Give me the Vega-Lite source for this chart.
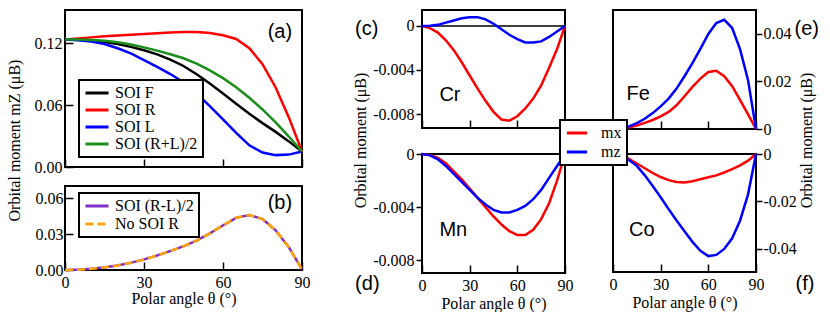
{
  "$schema": "https://vega.github.io/schema/vega-lite/v6.json",
  "background": "white",
  "padding": {"left": 4, "top": 9, "right": 0, "bottom": 0},
  "bounds": "full",
  "spacing": 39,
  "resolve": {"scale": {"color": "independent", "strokeDash": "independent"}, "legend": {"color": "independent", "strokeDash": "independent"}},
  "config": {
    "view": {"stroke": "black", "strokeWidth": 2},
    "style": {"guide-label": {"font": "Liberation Serif", "fontSize": 16, "fill": "black"}, "guide-title": {"font": "Liberation Serif", "fontSize": 16, "fontWeight": "normal", "fill": "black"}},
    "axis": {"domain": false, "grid": false, "labelFont": "Liberation Serif", "labelFontSize": 16, "labelColor": "black", "labelFlush": false, "labelOverlap": false, "tickColor": "black", "tickWidth": 1.5, "titleFont": "Liberation Serif", "titleFontSize": 16, "titleFontWeight": "normal", "titleColor": "black"},
    "legend": {"title": null, "orient": "none", "padding": 5, "rowPadding": 1, "strokeColor": "black", "fillColor": "white", "symbolType": "M-1,0H2.54", "symbolSize": 169, "symbolStrokeWidth": 3, "labelFont": "Liberation Serif", "labelFontSize": 16, "labelColor": "black", "labelOffset": 15}
  },
  "hconcat": [
    {
      "bounds": "flush",
      "spacing": 19,
      "resolve": {"scale": {"color": "independent", "strokeDash": "independent"}, "legend": {"color": "independent", "strokeDash": "independent"}},
      "vconcat": [
        {
          "width": 237, "height": 157,
          "layer": [
            {
              "data": {"values": [
                {"t": 0, "SOI F": 0.1235, "SOI R": 0.1235, "SOI L": 0.1235, "SOI (R+L)/2": 0.1235},
                {"t": 5, "SOI F": 0.1232, "SOI R": 0.1245, "SOI L": 0.1228, "SOI (R+L)/2": 0.1234},
                {"t": 10, "SOI F": 0.1225, "SOI R": 0.1255, "SOI L": 0.1215, "SOI (R+L)/2": 0.123},
                {"t": 15, "SOI F": 0.121, "SOI R": 0.1265, "SOI L": 0.119, "SOI (R+L)/2": 0.1222},
                {"t": 20, "SOI F": 0.119, "SOI R": 0.1273, "SOI L": 0.115, "SOI (R+L)/2": 0.1207},
                {"t": 25, "SOI F": 0.1163, "SOI R": 0.128, "SOI L": 0.11, "SOI (R+L)/2": 0.1185},
                {"t": 30, "SOI F": 0.113, "SOI R": 0.1288, "SOI L": 0.1035, "SOI (R+L)/2": 0.1158},
                {"t": 35, "SOI F": 0.109, "SOI R": 0.1295, "SOI L": 0.097, "SOI (R+L)/2": 0.1127},
                {"t": 40, "SOI F": 0.104, "SOI R": 0.1302, "SOI L": 0.09, "SOI (R+L)/2": 0.1092},
                {"t": 45, "SOI F": 0.0978, "SOI R": 0.1307, "SOI L": 0.082, "SOI (R+L)/2": 0.1053},
                {"t": 50, "SOI F": 0.0898, "SOI R": 0.1308, "SOI L": 0.071, "SOI (R+L)/2": 0.1},
                {"t": 55, "SOI F": 0.0808, "SOI R": 0.1298, "SOI L": 0.059, "SOI (R+L)/2": 0.0935},
                {"t": 60, "SOI F": 0.0712, "SOI R": 0.1275, "SOI L": 0.046, "SOI (R+L)/2": 0.086},
                {"t": 65, "SOI F": 0.0612, "SOI R": 0.124, "SOI L": 0.033, "SOI (R+L)/2": 0.0773},
                {"t": 70, "SOI F": 0.0515, "SOI R": 0.115, "SOI L": 0.021, "SOI (R+L)/2": 0.067},
                {"t": 75, "SOI F": 0.0425, "SOI R": 0.0995, "SOI L": 0.014, "SOI (R+L)/2": 0.0557},
                {"t": 80, "SOI F": 0.034, "SOI R": 0.077, "SOI L": 0.0115, "SOI (R+L)/2": 0.0432},
                {"t": 85, "SOI F": 0.0248, "SOI R": 0.048, "SOI L": 0.012, "SOI (R+L)/2": 0.0295},
                {"t": 90, "SOI F": 0.015, "SOI R": 0.015, "SOI L": 0.015, "SOI (R+L)/2": 0.015}
              ]},
              "transform": [{"fold": ["SOI F", "SOI R", "SOI L", "SOI (R+L)/2"], "as": ["series", "v"]}],
              "mark": {"type": "line", "strokeWidth": 2.5},
              "encoding": {
                "x": {"field": "t", "type": "quantitative", "scale": {"domain": [0, 90], "nice": false, "zero": false},
                  "axis": {"values": [0, 15, 30, 45, 60, 75, 90], "labels": false, "title": null, "tickSize": {"condition": {"test": "datum.value % 30 === 0", "value": -8}, "value": -4}}},
                "y": {"field": "v", "type": "quantitative", "scale": {"domain": [0, 0.152], "nice": false},
                  "axis": {"values": [0, 0.06, 0.12], "format": ".2f", "tickSize": -8, "labelPadding": 11, "title": "Orbital moment mZ (μB)", "titleX": -51, "titleY": 130, "titleBaseline": "middle", "titleAlign": "center"}},
                "color": {"field": "series", "type": "nominal", "sort": null,
                  "scale": {"domain": ["SOI F", "SOI R", "SOI L", "SOI (R+L)/2"], "range": ["#000000", "#ff0000", "#0000ff", "#1a8f1a"]},
                  "legend": {"legendX": 14, "legendY": 70, "labelFont": "Liberation Serif", "encode": {"legend": {"update": {"strokeWidth": {"value": 2}}}, "labels": {"update": {"font": {"value": "Liberation Serif"}}}}}}
              }
            },
            {
              "data": {"values": [{"t": 81.6, "v": 0.1307, "label": "(a)"}]},
              "mark": {"type": "text", "font": "Liberation Sans", "fontSize": 20, "color": "black", "align": "center", "baseline": "middle"},
              "encoding": {
                "x": {"field": "t", "type": "quantitative", "scale": {"domain": [0, 90], "nice": false, "zero": false}},
                "y": {"field": "v", "type": "quantitative", "scale": {"domain": [0, 0.152], "nice": false}},
                "text": {"field": "label"}
              }
            }
          ]
        },
        {
          "width": 237, "height": 84,
          "layer": [
            {
              "data": {"values": [
                {"t": 0, "SOI (R-L)/2": 0, "No SOI R": 0},
                {"t": 5, "SOI (R-L)/2": 0.0003, "No SOI R": 0.0003},
                {"t": 10, "SOI (R-L)/2": 0.001, "No SOI R": 0.001},
                {"t": 15, "SOI (R-L)/2": 0.0022, "No SOI R": 0.0022},
                {"t": 20, "SOI (R-L)/2": 0.0038, "No SOI R": 0.0038},
                {"t": 25, "SOI (R-L)/2": 0.006, "No SOI R": 0.006},
                {"t": 30, "SOI (R-L)/2": 0.0088, "No SOI R": 0.0088},
                {"t": 35, "SOI (R-L)/2": 0.0121, "No SOI R": 0.0121},
                {"t": 40, "SOI (R-L)/2": 0.0158, "No SOI R": 0.0158},
                {"t": 45, "SOI (R-L)/2": 0.0198, "No SOI R": 0.0198},
                {"t": 50, "SOI (R-L)/2": 0.0245, "No SOI R": 0.0245},
                {"t": 55, "SOI (R-L)/2": 0.0305, "No SOI R": 0.0305},
                {"t": 60, "SOI (R-L)/2": 0.0372, "No SOI R": 0.0372},
                {"t": 65, "SOI (R-L)/2": 0.0435, "No SOI R": 0.0435},
                {"t": 70, "SOI (R-L)/2": 0.0458, "No SOI R": 0.0458},
                {"t": 75, "SOI (R-L)/2": 0.0425, "No SOI R": 0.0425},
                {"t": 80, "SOI (R-L)/2": 0.033, "No SOI R": 0.033},
                {"t": 85, "SOI (R-L)/2": 0.019, "No SOI R": 0.019},
                {"t": 90, "SOI (R-L)/2": 0.0005, "No SOI R": 0.0005}
              ]},
              "transform": [{"fold": ["SOI (R-L)/2", "No SOI R"], "as": ["series", "v"]}],
              "mark": {"type": "line", "strokeWidth": 2.5},
              "encoding": {
                "x": {"field": "t", "type": "quantitative", "scale": {"domain": [0, 90], "nice": false, "zero": false},
                  "axis": {"values": [0, 15, 30, 45, 60, 75, 90], "labelExpr": "datum.value % 30 === 0 ? datum.label : ''", "labelBaseline": "middle", "labelPadding": 20, "title": "Polar angle θ (°)", "titleY": 28, "titleBaseline": "middle", "tickSize": {"condition": {"test": "datum.value % 30 === 0", "value": -8}, "value": -4}}},
                "y": {"field": "v", "type": "quantitative", "scale": {"domain": [0, 0.07], "nice": false},
                  "axis": {"values": [0, 0.03, 0.06], "format": ".2f", "tickSize": -8, "labelPadding": 10, "title": null}},
                "color": {"field": "series", "type": "nominal", "sort": null,
                  "scale": {"domain": ["SOI (R-L)/2", "No SOI R"], "range": ["#7f30c8", "#ffa500"]},
                  "legend": {"legendX": 14, "legendY": 7, "rowPadding": 2, "labelFont": "Liberation Serif", "encode": {"legend": {"update": {"strokeWidth": {"value": 2}}}, "labels": {"update": {"font": {"value": "Liberation Serif"}}}}}},
                "strokeDash": {"field": "series", "type": "nominal", "sort": null,
                  "scale": {"domain": ["SOI (R-L)/2", "No SOI R"], "range": [[1, 0], [8, 4]]},
                  "legend": {"legendX": 14, "legendY": 7, "rowPadding": 2, "labelFont": "Liberation Serif", "encode": {"legend": {"update": {"strokeWidth": {"value": 2}}}, "labels": {"update": {"font": {"value": "Liberation Serif"}}}}}}
              }
            },
            {
              "data": {"values": [{"t": 81.6, "v": 0.0561, "label": "(b)"}]},
              "mark": {"type": "text", "font": "Liberation Sans", "fontSize": 20, "color": "black", "align": "center", "baseline": "middle"},
              "encoding": {
                "x": {"field": "t", "type": "quantitative", "scale": {"domain": [0, 90], "nice": false, "zero": false}},
                "y": {"field": "v", "type": "quantitative", "scale": {"domain": [0, 0.07], "nice": false}},
                "text": {"field": "label"}
              }
            }
          ]
        }
      ]
    },
    {
      "bounds": "full",
      "spacing": -16,
      "resolve": {"scale": {"color": "independent"}, "legend": {"color": "independent"}},
      "hconcat": [
        {
          "bounds": "flush",
          "spacing": 26,
          "resolve": {"scale": {"color": "independent"}, "legend": {"color": "independent"}},
          "vconcat": [
            {
              "width": 143, "height": 118,
              "layer": [
                {
                  "data": {"values": [{}]},
                  "mark": {"type": "rule", "color": "black", "strokeWidth": 1.5},
                  "encoding": {"y": {"datum": 0, "type": "quantitative", "scale": {"domain": [-0.00927, 0.00145], "nice": false}}}
                },
                {
                  "data": {"values": [
                    {"t": 0, "mx": 0, "mz": 0},
                    {"t": 5, "mx": -0.0002, "mz": 0.00003},
                    {"t": 10, "mx": -0.0006, "mz": 0.0001},
                    {"t": 15, "mx": -0.0013, "mz": 0.0003},
                    {"t": 20, "mx": -0.0022, "mz": 0.0005},
                    {"t": 25, "mx": -0.0033, "mz": 0.0007},
                    {"t": 30, "mx": -0.0045, "mz": 0.0008},
                    {"t": 35, "mx": -0.0057, "mz": 0.0008},
                    {"t": 40, "mx": -0.0068, "mz": 0.0006},
                    {"t": 45, "mx": -0.0078, "mz": 0.0002},
                    {"t": 50, "mx": -0.0085, "mz": -0.0003},
                    {"t": 55, "mx": -0.0086, "mz": -0.0008},
                    {"t": 60, "mx": -0.0082, "mz": -0.0012},
                    {"t": 65, "mx": -0.0075, "mz": -0.0015},
                    {"t": 70, "mx": -0.0066, "mz": -0.0015},
                    {"t": 75, "mx": -0.0054, "mz": -0.0014},
                    {"t": 80, "mx": -0.0038, "mz": -0.001},
                    {"t": 85, "mx": -0.0021, "mz": -0.0005},
                    {"t": 90, "mx": 0, "mz": 0}
                  ]},
                  "transform": [{"fold": ["mx", "mz"], "as": ["series", "v"]}],
                  "mark": {"type": "line", "strokeWidth": 2.5},
                  "encoding": {
                    "x": {"field": "t", "type": "quantitative", "scale": {"domain": [0, 90], "nice": false, "zero": false},
                      "axis": {"values": [0, 15, 30, 45, 60, 75, 90], "labels": false, "title": null, "tickSize": {"condition": {"test": "datum.value % 30 === 0", "value": -8}, "value": -4}}},
                    "y": {"field": "v", "type": "quantitative", "scale": {"domain": [-0.00927, 0.00145], "nice": false},
                      "axis": {"values": [0, -0.004, -0.008], "labelExpr": "datum.value === 0 ? '0' : replace(format(datum.value, '.3f'), '\u2212', '-')", "tickSize": 6, "labelPadding": 2, "title": "Orbital moment (μB)", "titleX": -62, "titleY": 130, "titleBaseline": "middle", "titleAlign": "center"}},
                    "color": {"field": "series", "type": "nominal", "scale": {"domain": ["mx", "mz"], "range": ["#ff0000", "#0000ff"]}, "legend": null}
                  }
                },
                {
                  "data": {"values": [{"t": -34.8, "v": -0.00029, "label": "(c)"}, {"t": 17.6, "v": -0.00627, "label": "Cr"}]},
                  "mark": {"type": "text", "font": "Liberation Sans", "fontSize": 20, "color": "black", "align": "center", "baseline": "middle"},
                  "encoding": {
                    "x": {"field": "t", "type": "quantitative", "scale": {"domain": [0, 90], "nice": false, "zero": false}},
                    "y": {"field": "v", "type": "quantitative", "scale": {"domain": [-0.00927, 0.00145], "nice": false}},
                    "text": {"field": "label"}
                  }
                }
              ]
            },
            {
              "width": 143, "height": 119,
              "layer": [
                {
                  "data": {"values": [
                    {"t": 0, "mx": 0, "mz": 0},
                    {"t": 5, "mx": -0.00007, "mz": -0.0001},
                    {"t": 10, "mx": -0.0003, "mz": -0.0004},
                    {"t": 15, "mx": -0.0007, "mz": -0.0009},
                    {"t": 20, "mx": -0.0013, "mz": -0.0015},
                    {"t": 25, "mx": -0.0019, "mz": -0.0021},
                    {"t": 30, "mx": -0.0026, "mz": -0.0027},
                    {"t": 35, "mx": -0.0033, "mz": -0.0033},
                    {"t": 40, "mx": -0.004, "mz": -0.0038},
                    {"t": 45, "mx": -0.0047, "mz": -0.0042},
                    {"t": 50, "mx": -0.0053, "mz": -0.0044},
                    {"t": 55, "mx": -0.0058, "mz": -0.0044},
                    {"t": 60, "mx": -0.0061, "mz": -0.0042},
                    {"t": 65, "mx": -0.0061, "mz": -0.0039},
                    {"t": 70, "mx": -0.0057, "mz": -0.0034},
                    {"t": 75, "mx": -0.0049, "mz": -0.0027},
                    {"t": 80, "mx": -0.0037, "mz": -0.0018},
                    {"t": 85, "mx": -0.002, "mz": -0.0009},
                    {"t": 90, "mx": 0, "mz": 0}
                  ]},
                  "transform": [{"fold": ["mx", "mz"], "as": ["series", "v"]}],
                  "mark": {"type": "line", "strokeWidth": 2.5},
                  "encoding": {
                    "x": {"field": "t", "type": "quantitative", "scale": {"domain": [0, 90], "nice": false, "zero": false},
                      "axis": {"values": [0, 15, 30, 45, 60, 75, 90], "labelExpr": "datum.value % 30 === 0 ? datum.label : ''", "labelBaseline": "middle", "labelPadding": 20, "title": "Polar angle θ (°)", "titleY": 30, "titleBaseline": "middle", "tickSize": {"condition": {"test": "datum.value % 30 === 0", "value": -8}, "value": -4}}},
                    "y": {"field": "v", "type": "quantitative", "scale": {"domain": [-0.00895, 0], "nice": false},
                      "axis": {"values": [0, -0.004, -0.008], "labelExpr": "datum.value === 0 ? '0' : replace(format(datum.value, '.3f'), '\u2212', '-')", "tickSize": 6, "labelPadding": 2, "title": null}},
                    "color": {"field": "series", "type": "nominal", "scale": {"domain": ["mx", "mz"], "range": ["#ff0000", "#0000ff"]}, "legend": null}
                  }
                },
                {
                  "data": {"values": [{"t": -34.4, "v": -0.00978, "label": "(d)"}, {"t": 19.7, "v": -0.00572, "label": "Mn"}]},
                  "mark": {"type": "text", "font": "Liberation Sans", "fontSize": 20, "color": "black", "align": "center", "baseline": "middle"},
                  "encoding": {
                    "x": {"field": "t", "type": "quantitative", "scale": {"domain": [0, 90], "nice": false, "zero": false}},
                    "y": {"field": "v", "type": "quantitative", "scale": {"domain": [-0.00895, 0], "nice": false}},
                    "text": {"field": "label"}
                  }
                }
              ]
            }
          ]
        },
        {
          "bounds": "flush",
          "spacing": 25,
          "resolve": {"scale": {"color": "independent"}, "legend": {"color": "independent"}},
          "vconcat": [
            {
              "width": 143, "height": 119,
              "layer": [
                {
                  "data": {"values": [
                    {"t": 0, "mx": 0, "mz": 0},
                    {"t": 5, "mx": 0.0002, "mz": 0.0003},
                    {"t": 10, "mx": 0.0007, "mz": 0.0011},
                    {"t": 15, "mx": 0.0015, "mz": 0.0025},
                    {"t": 20, "mx": 0.0026, "mz": 0.0043},
                    {"t": 25, "mx": 0.0038, "mz": 0.0067},
                    {"t": 30, "mx": 0.0053, "mz": 0.0095},
                    {"t": 35, "mx": 0.0072, "mz": 0.0128},
                    {"t": 40, "mx": 0.01, "mz": 0.017},
                    {"t": 45, "mx": 0.0138, "mz": 0.0222},
                    {"t": 50, "mx": 0.0177, "mz": 0.0277},
                    {"t": 55, "mx": 0.0212, "mz": 0.0337},
                    {"t": 60, "mx": 0.024, "mz": 0.04},
                    {"t": 65, "mx": 0.0245, "mz": 0.0446},
                    {"t": 70, "mx": 0.0222, "mz": 0.046},
                    {"t": 75, "mx": 0.018, "mz": 0.0425},
                    {"t": 80, "mx": 0.0122, "mz": 0.0335},
                    {"t": 85, "mx": 0.0062, "mz": 0.0205},
                    {"t": 90, "mx": 0, "mz": 0}
                  ]},
                  "transform": [{"fold": ["mx", "mz"], "as": ["series", "v"]}],
                  "mark": {"type": "line", "strokeWidth": 2.5},
                  "encoding": {
                    "x": {"field": "t", "type": "quantitative", "scale": {"domain": [0, 90], "nice": false, "zero": false},
                      "axis": {"values": [0, 15, 30, 45, 60, 75, 90], "labels": false, "title": null, "tickSize": {"condition": {"test": "datum.value % 30 === 0", "value": -8}, "value": -4}}},
                    "y": {"field": "v", "type": "quantitative", "scale": {"domain": [0, 0.0501], "nice": false},
                      "axis": {"orient": "right", "values": [0, 0.02, 0.04], "labelExpr": "datum.value === 0 ? '0' : format(datum.value, '.2f')", "tickSize": 6, "labelPadding": 1, "title": "Orbital moment (μB)", "titleAngle": 270, "titleX": 50, "titleY": 130, "titleBaseline": "middle", "titleAlign": "center"}},
                    "color": {"field": "series", "type": "nominal", "scale": {"domain": ["mx", "mz"], "range": ["#ff0000", "#0000ff"]}, "legend": null}
                  }
                },
                {
                  "data": {"values": [{"t": 121.9, "v": 0.0421, "label": "(e)"}, {"t": 15.9, "v": 0.0147, "label": "Fe"}]},
                  "mark": {"type": "text", "font": "Liberation Sans", "fontSize": 20, "color": "black", "align": "center", "baseline": "middle"},
                  "encoding": {
                    "x": {"field": "t", "type": "quantitative", "scale": {"domain": [0, 90], "nice": false, "zero": false}},
                    "y": {"field": "v", "type": "quantitative", "scale": {"domain": [0, 0.0501], "nice": false}},
                    "text": {"field": "label"}
                  }
                }
              ]
            },
            {
              "width": 143, "height": 118,
              "layer": [
                {
                  "data": {"values": [
                    {"t": 0, "mx": 0, "mz": 0},
                    {"t": 5, "mx": -0.0005, "mz": -0.0006},
                    {"t": 10, "mx": -0.002, "mz": -0.0025},
                    {"t": 15, "mx": -0.004, "mz": -0.005},
                    {"t": 20, "mx": -0.006, "mz": -0.009},
                    {"t": 25, "mx": -0.008, "mz": -0.0135},
                    {"t": 30, "mx": -0.0097, "mz": -0.0182},
                    {"t": 35, "mx": -0.011, "mz": -0.0232},
                    {"t": 40, "mx": -0.0118, "mz": -0.028},
                    {"t": 45, "mx": -0.012, "mz": -0.0325},
                    {"t": 50, "mx": -0.0115, "mz": -0.037},
                    {"t": 55, "mx": -0.0106, "mz": -0.0408},
                    {"t": 60, "mx": -0.0098, "mz": -0.043},
                    {"t": 65, "mx": -0.009, "mz": -0.0425},
                    {"t": 70, "mx": -0.0078, "mz": -0.04},
                    {"t": 75, "mx": -0.0064, "mz": -0.0355},
                    {"t": 80, "mx": -0.0048, "mz": -0.028},
                    {"t": 85, "mx": -0.0028, "mz": -0.017},
                    {"t": 90, "mx": 0, "mz": 0}
                  ]},
                  "transform": [{"fold": ["mx", "mz"], "as": ["series", "v"]}],
                  "mark": {"type": "line", "strokeWidth": 2.5},
                  "encoding": {
                    "x": {"field": "t", "type": "quantitative", "scale": {"domain": [0, 90], "nice": false, "zero": false},
                      "axis": {"values": [0, 15, 30, 45, 60, 75, 90], "labelExpr": "datum.value % 30 === 0 ? datum.label : ''", "labelBaseline": "middle", "labelPadding": 20, "title": "Polar angle θ (°)", "titleY": 30, "titleBaseline": "middle", "tickSize": {"condition": {"test": "datum.value % 30 === 0", "value": -8}, "value": -4}}},
                    "y": {"field": "v", "type": "quantitative", "scale": {"domain": [-0.0497, 0], "nice": false},
                      "axis": {"orient": "right", "values": [0, -0.02, -0.04], "labelExpr": "datum.value === 0 ? '0' : replace(format(datum.value, '.2f'), '\u2212', '-')", "tickSize": 6, "labelPadding": 1, "title": null}},
                    "color": {"field": "series", "type": "nominal", "scale": {"domain": ["mx", "mz"], "range": ["#ff0000", "#0000ff"]},
                      "legend": {"legendX": -53, "legendY": -34, "symbolType": "M-1,0H2.3", "symbolSize": 150, "rowPadding": 3, "labelOffset": 20, "labelFont": "Liberation Serif", "encode": {"legend": {"update": {"strokeWidth": {"value": 2}}}, "labels": {"update": {"font": {"value": "Liberation Serif"}}}}}}
                  }
                },
                {
                  "data": {"values": [{"t": 120.8, "v": -0.0547, "label": "(f)"}, {"t": 18.1, "v": -0.032, "label": "Co"}]},
                  "mark": {"type": "text", "font": "Liberation Sans", "fontSize": 20, "color": "black", "align": "center", "baseline": "middle"},
                  "encoding": {
                    "x": {"field": "t", "type": "quantitative", "scale": {"domain": [0, 90], "nice": false, "zero": false}},
                    "y": {"field": "v", "type": "quantitative", "scale": {"domain": [-0.0497, 0], "nice": false}},
                    "text": {"field": "label"}
                  }
                }
              ]
            }
          ]
        }
      ]
    }
  ]
}
